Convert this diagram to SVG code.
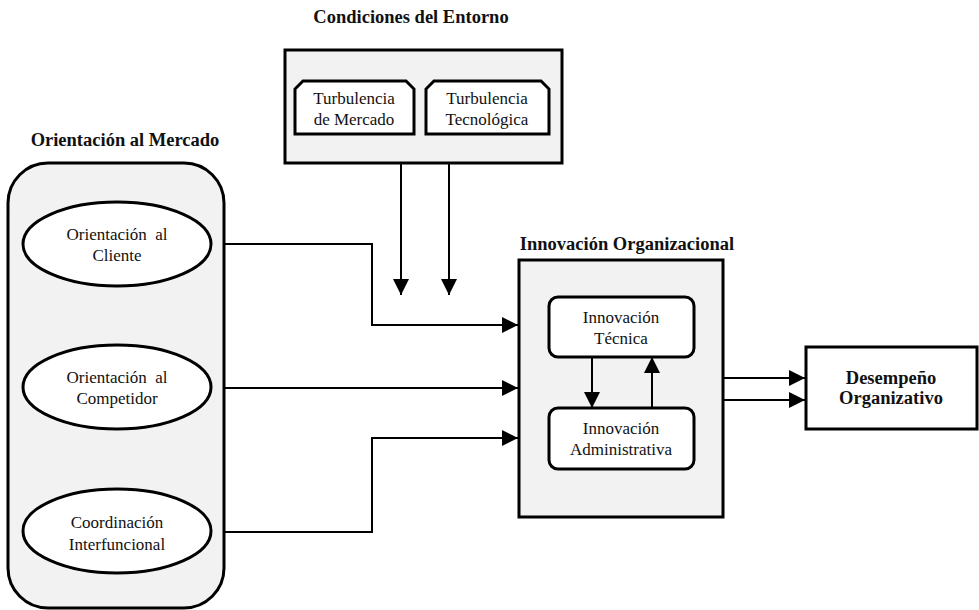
<svg xmlns="http://www.w3.org/2000/svg" width="979" height="610" viewBox="0 0 979 610">
  <style>
    .t { font-family: 'Liberation Serif', 'DejaVu Serif', 'Times New Roman', serif; font-size: 17px; fill: #111; text-anchor: middle; }
    .b { font-weight: bold; font-size: 18.5px; }
    .panel { fill: #f2f2f2; stroke: #000; stroke-width: 3; }
    .inner { fill: #fff; stroke: #000; stroke-width: 3; }
    .wire { fill: none; stroke: #000; stroke-width: 2; }
  </style>
  <defs>
    <marker id="head" viewBox="0 0 16 16" refX="16" refY="8" markerWidth="16" markerHeight="16" markerUnits="userSpaceOnUse" orient="auto">
      <path d="M0,0 L16,8 L0,16 z" fill="#000"/>
    </marker>
  </defs>
  <rect width="979" height="610" fill="#fff"/>

  <!-- Environmental conditions -->
  <g id="entorno">
    <text class="t b" x="411" y="23">Condiciones del Entorno</text>
    <rect class="panel" x="285" y="50" width="277" height="113"/>
    <g id="turb-mercado">
      <path class="inner" d="M303,81 L406,81 L414,89 L414,134 L295,134 L295,89 Z"/>
      <text class="t" x="354" y="104">Turbulencia</text>
      <text class="t" x="354" y="125">de Mercado</text>
    </g>
    <g id="turb-tecno">
      <path class="inner" d="M434,81 L541,81 L549,89 L549,134 L426,134 L426,89 Z"/>
      <text class="t" x="487" y="104">Turbulencia</text>
      <text class="t" x="487" y="125">Tecnológica</text>
    </g>
  </g>

  <!-- Market orientation -->
  <g id="mercado">
    <text class="t b" x="125" y="146">Orientación al Mercado</text>
    <rect class="panel" x="8" y="163" width="216" height="445" rx="40" ry="40"/>
    <g id="cliente">
      <ellipse class="inner" cx="117" cy="244" rx="94" ry="42"/>
      <text class="t" x="117" y="240" xml:space="preserve">Orientación  al</text>
      <text class="t" x="117" y="261">Cliente</text>
    </g>
    <g id="competidor">
      <ellipse class="inner" cx="117" cy="387" rx="94" ry="42"/>
      <text class="t" x="117" y="383" xml:space="preserve">Orientación  al</text>
      <text class="t" x="117" y="404">Competidor</text>
    </g>
    <g id="coordinacion">
      <ellipse class="inner" cx="117" cy="531" rx="94" ry="42"/>
      <text class="t" x="117" y="528">Coordinación</text>
      <text class="t" x="117" y="550">Interfuncional</text>
    </g>
  </g>

  <!-- Organizational innovation -->
  <g id="innovacion">
    <text class="t b" x="627" y="250">Innovación Organizacional</text>
    <rect class="panel" x="519" y="260" width="204" height="257"/>
    <g id="tecnica">
      <rect class="inner" x="549" y="297" width="145" height="60" rx="9" ry="9"/>
      <text class="t" x="621" y="323">Innovación</text>
      <text class="t" x="621" y="344">Técnica</text>
    </g>
    <g id="administrativa">
      <rect class="inner" x="549" y="408" width="145" height="61" rx="9" ry="9"/>
      <text class="t" x="621" y="434">Innovación</text>
      <text class="t" x="621" y="455">Administrativa</text>
    </g>
  </g>

  <!-- Organizational performance -->
  <g id="desempeno">
    <rect x="806" y="347" width="171" height="82" fill="#fff" stroke="#000" stroke-width="3"/>
    <text class="t b" x="891" y="384">Desempeño</text>
    <text class="t b" x="891" y="404">Organizativo</text>
  </g>

  <!-- Connectors -->
  <g id="connectors">
    <path class="wire" d="M401,163 L401,295" marker-end="url(#head)"/>
    <path class="wire" d="M449,163 L449,295" marker-end="url(#head)"/>
    <path class="wire" d="M224,244 L372,244 L372,325 L518,325" marker-end="url(#head)"/>
    <path class="wire" d="M224,388 L518,388" marker-end="url(#head)"/>
    <path class="wire" d="M224,532 L372,532 L372,438 L518,438" marker-end="url(#head)"/>
    <path class="wire" d="M592,357 L592,408" marker-end="url(#head)"/>
    <path class="wire" d="M652,408 L652,357" marker-end="url(#head)"/>
    <path class="wire" d="M723,378 L805,378" marker-end="url(#head)"/>
    <path class="wire" d="M723,400 L805,400" marker-end="url(#head)"/>
  </g>
</svg>
